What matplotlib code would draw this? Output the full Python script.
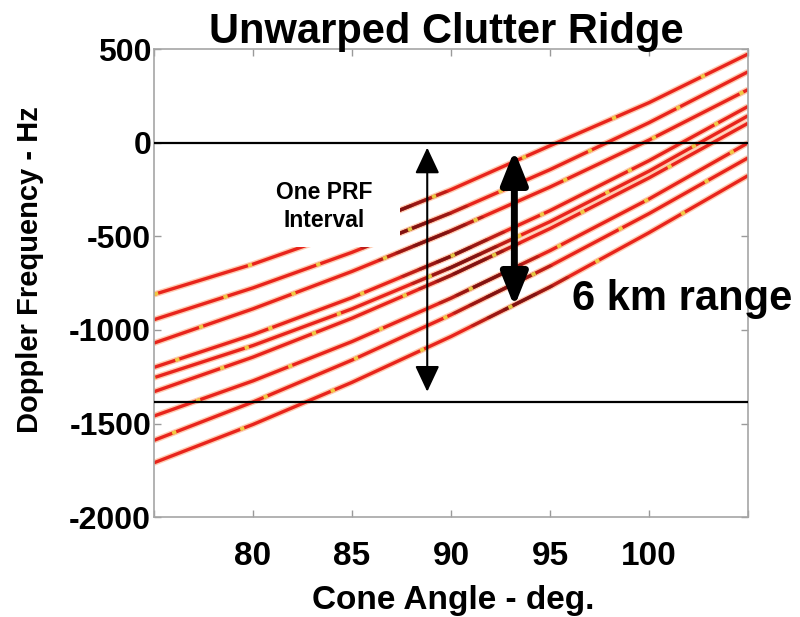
import numpy as np
import matplotlib.pyplot as plt
from matplotlib.patches import Polygon, Rectangle

plt.rcParams['font.family'] = ['Liberation Sans', 'DejaVu Sans']
plt.rcParams['font.weight'] = 'bold'

# cone angle samples (deg) and doppler of each range ring (Hz)
cone = [75, 80, 85, 90, 95, 100, 105]
ridge1 = [-810, -648, -462, -250, -15, 215, 475]
ridge2 = [-945, -775, -585, -374, -143, 108, 380]
ridge3 = [-1070, -887, -687, -470, -236, 15, 285]
ridge4 = [-1200, -1025, -827, -606, -362, -95, 195]
ridge5 = [-1255, -1083, -887, -666, -421, -151, 145]
ridge6 = [-1330, -1145, -937, -708, -458, -187, 105]
ridge7 = [-1460, -1272, -1062, -830, -576, -300, 0]
ridge8 = [-1590, -1385, -1161, -919, -658, -378, -80]
ridge9 = [-1710, -1505, -1280, -1035, -770, -480, -175]
ridges = [ridge1, ridge2, ridge3, ridge4, ridge5, ridge6, ridge7, ridge8, ridge9]

prfTop = 0
prfBottom = -1385

xTicks = [75, 80, 85, 90, 95, 100, 105]
xLabels = ['', '80', '85', '90', '95', '100', '']
yTicks = [-2000, -1500, -1000, -500, 0, 500]

fig = plt.figure(figsize=(8, 6.17), dpi=100)
ax = fig.add_axes([0.1925, 0.162, 0.7425, 0.758])


def bandPoly(w):
    # diagonal strip where the ridge is brightest
    def cx(y):
        return 87.5 + (-400 - y) / 75.0
    verts = [(cx(600) - w, 600), (cx(600) + w, 600),
             (cx(-2100) + w, -2100), (cx(-2100) - w, -2100)]
    return Polygon(verts, closed=True, transform=ax.transData)


for i, r in enumerate(ridges):
    ax.plot(cone, r, color='#ff8c50', lw=4.4, alpha=0.45, solid_capstyle='butt', zorder=1)
    ax.plot(cone, r, color='#e8241c', lw=2.4, solid_capstyle='butt', zorder=2)
    for w, a in [(4.2, 0.35), (2.8, 0.45), (1.4, 0.55)]:
        ln, = ax.plot(cone, r, color='#6e1010', lw=2.4, alpha=a, solid_capstyle='butt', zorder=2)
        ln.set_clip_path(bandPoly(w))
    ax.plot(cone, r, color='#f2e64a', lw=2.6, alpha=0.85, zorder=2,
            linestyle=(7 * i, (1.2, 26)))

ax.axhline(prfTop, color='black', lw=1.6, zorder=3)
ax.axhline(prfBottom, color='black', lw=1.6, zorder=3)

# white box behind the label
ax.add_patch(Rectangle((80.2, -555), 7.2, 430, facecolor='white', edgecolor='none', zorder=4))
ax.text(83.6, -340, 'One PRF\nInterval', ha='center', va='center', fontsize=16.5,
        linespacing=1.3, zorder=5)

ax.annotate('', xy=(88.8, -25), xytext=(88.8, -1330), zorder=6,
            arrowprops=dict(arrowstyle='<|-|>,head_length=1.6,head_width=0.75',
                            color='black', lw=1.5, shrinkA=0, shrinkB=0))
ax.annotate('', xy=(93.2, -40), xytext=(93.2, -875), zorder=6,
            arrowprops=dict(arrowstyle='<|-|>,head_length=2.0,head_width=0.8',
                            color='black', lw=5, shrinkA=0, shrinkB=0))

ax.set_xlim(75, 105)
ax.set_ylim(-2000, 500)
ax.set_xticks(xTicks)
ax.set_xticklabels(xLabels)
ax.set_yticks(yTicks)
ax.set_yticklabels([str(v) for v in yTicks])
ax.tick_params(direction='in', top=True, right=True, color='#9a9a9a', length=5, width=1)
ax.tick_params(axis='x', labelsize=24, pad=17)
ax.tick_params(axis='y', labelsize=23, pad=2)
for sp in ax.spines.values():
    sp.set_color('#a6a6a6')
    sp.set_linewidth(1.2)

fig.text(0.5575, 1 - 43 / 617, 'Unwarped Clutter Ridge', fontsize=30,
         ha='center', va='baseline')
fig.text(453 / 800, 1 - 609 / 617, 'Cone Angle - deg.', fontsize=24,
         ha='center', va='baseline')
fig.text(30 / 800, 1 - 270 / 617, 'Doppler Frequency - Hz', fontsize=21,
         rotation=90, ha='center', va='center')
fig.text(682 / 800, 1 - 310 / 617, '6 km range', fontsize=30,
         ha='center', va='baseline')

fig.savefig('out.png', dpi=100)
